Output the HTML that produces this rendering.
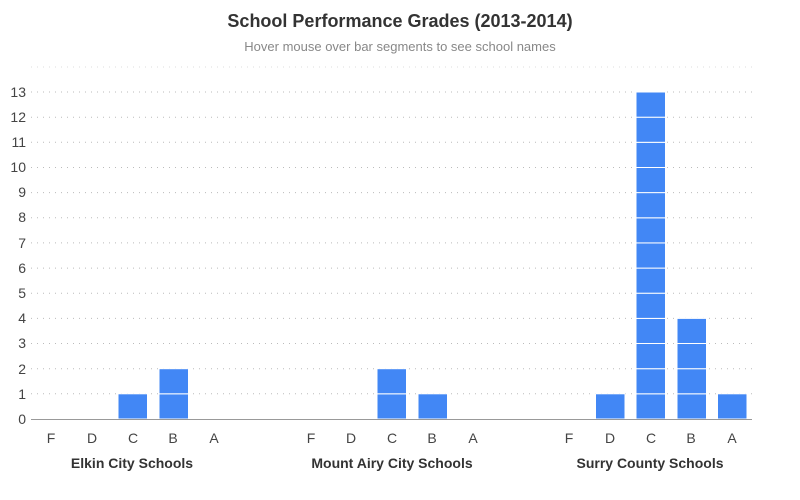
<!DOCTYPE html>
<html><head><meta charset="utf-8"><style>
body{margin:0;background:#fff;}
svg{display:block;font-family:"Liberation Sans",sans-serif;}
</style></head><body>
<svg width="800" height="500" xmlns="http://www.w3.org/2000/svg">
<rect width="800" height="500" fill="#fff"/>
<text x="400" y="27" text-anchor="middle" font-size="18" font-weight="bold" fill="#333">School Performance Grades (2013-2014)</text>
<text x="400" y="51" text-anchor="middle" font-size="13" fill="#888">Hover mouse over bar segments to see school names</text>
<line x1="31" x2="752" y1="67" y2="67" stroke="#ddd" stroke-width="1" stroke-dasharray="1,5"/>
<g stroke="#bbb" stroke-width="1" stroke-dasharray="1,5">
<line x1="31" x2="752" y1="393.8" y2="393.8"/>
<line x1="31" x2="752" y1="368.7" y2="368.7"/>
<line x1="31" x2="752" y1="343.5" y2="343.5"/>
<line x1="31" x2="752" y1="318.4" y2="318.4"/>
<line x1="31" x2="752" y1="293.2" y2="293.2"/>
<line x1="31" x2="752" y1="268.1" y2="268.1"/>
<line x1="31" x2="752" y1="242.9" y2="242.9"/>
<line x1="31" x2="752" y1="217.8" y2="217.8"/>
<line x1="31" x2="752" y1="192.6" y2="192.6"/>
<line x1="31" x2="752" y1="167.5" y2="167.5"/>
<line x1="31" x2="752" y1="142.3" y2="142.3"/>
<line x1="31" x2="752" y1="117.2" y2="117.2"/>
<line x1="31" x2="752" y1="92" y2="92"/>
</g>
<g font-size="14" fill="#444" text-anchor="end">
<text x="26" y="424">0</text><text x="26" y="399">1</text><text x="26" y="374">2</text><text x="26" y="348">3</text><text x="26" y="323">4</text><text x="26" y="298">5</text><text x="26" y="273">6</text><text x="26" y="248">7</text><text x="26" y="222">8</text><text x="26" y="197">9</text><text x="26" y="172">10</text><text x="26" y="147">11</text><text x="26" y="122">12</text><text x="26" y="97">13</text>
</g>
<g fill="#4287f5" stroke="#fff" stroke-width="1">
<rect x="118" y="393.8" width="29.5" height="25.2"/>
<rect x="159" y="393.8" width="29.5" height="25.2"/>
<rect x="159" y="368.7" width="29.5" height="25.1"/>
<rect x="377" y="393.8" width="29.5" height="25.2"/>
<rect x="377" y="368.7" width="29.5" height="25.1"/>
<rect x="418" y="393.8" width="29.5" height="25.2"/>
<rect x="595.5" y="393.8" width="29.5" height="25.2"/>
<rect x="636" y="393.8" width="29.5" height="25.2"/>
<rect x="636" y="368.7" width="29.5" height="25.1"/>
<rect x="636" y="343.5" width="29.5" height="25.2"/>
<rect x="636" y="318.4" width="29.5" height="25.1"/>
<rect x="636" y="293.2" width="29.5" height="25.2"/>
<rect x="636" y="268.1" width="29.5" height="25.1"/>
<rect x="636" y="242.9" width="29.5" height="25.2"/>
<rect x="636" y="217.8" width="29.5" height="25.1"/>
<rect x="636" y="192.6" width="29.5" height="25.2"/>
<rect x="636" y="167.5" width="29.5" height="25.1"/>
<rect x="636" y="142.3" width="29.5" height="25.2"/>
<rect x="636" y="117.2" width="29.5" height="25.1"/>
<rect x="636" y="92" width="29.5" height="25.2"/>
<rect x="677" y="393.8" width="29.5" height="25.2"/>
<rect x="677" y="368.7" width="29.5" height="25.1"/>
<rect x="677" y="343.5" width="29.5" height="25.2"/>
<rect x="677" y="318.4" width="29.5" height="25.1"/>
<rect x="717.5" y="393.8" width="29.5" height="25.2"/>
</g>
<line x1="31" x2="752" y1="419.5" y2="419.5" stroke="#999" stroke-width="1"/>
<g font-size="14" fill="#444" text-anchor="middle">
<text x="51" y="443">F</text><text x="92" y="443">D</text><text x="133" y="443">C</text><text x="173" y="443">B</text><text x="214" y="443">A</text>
<text x="311" y="443">F</text><text x="351" y="443">D</text><text x="392" y="443">C</text><text x="432" y="443">B</text><text x="473" y="443">A</text>
<text x="569" y="443">F</text><text x="610" y="443">D</text><text x="651" y="443">C</text><text x="691" y="443">B</text><text x="732" y="443">A</text>
</g>
<g font-size="14" font-weight="bold" fill="#333" text-anchor="middle">
<text x="132" y="468">Elkin City Schools</text>
<text x="392" y="468">Mount Airy City Schools</text>
<text x="650" y="468">Surry County Schools</text>
</g>
</svg>
</body></html>
